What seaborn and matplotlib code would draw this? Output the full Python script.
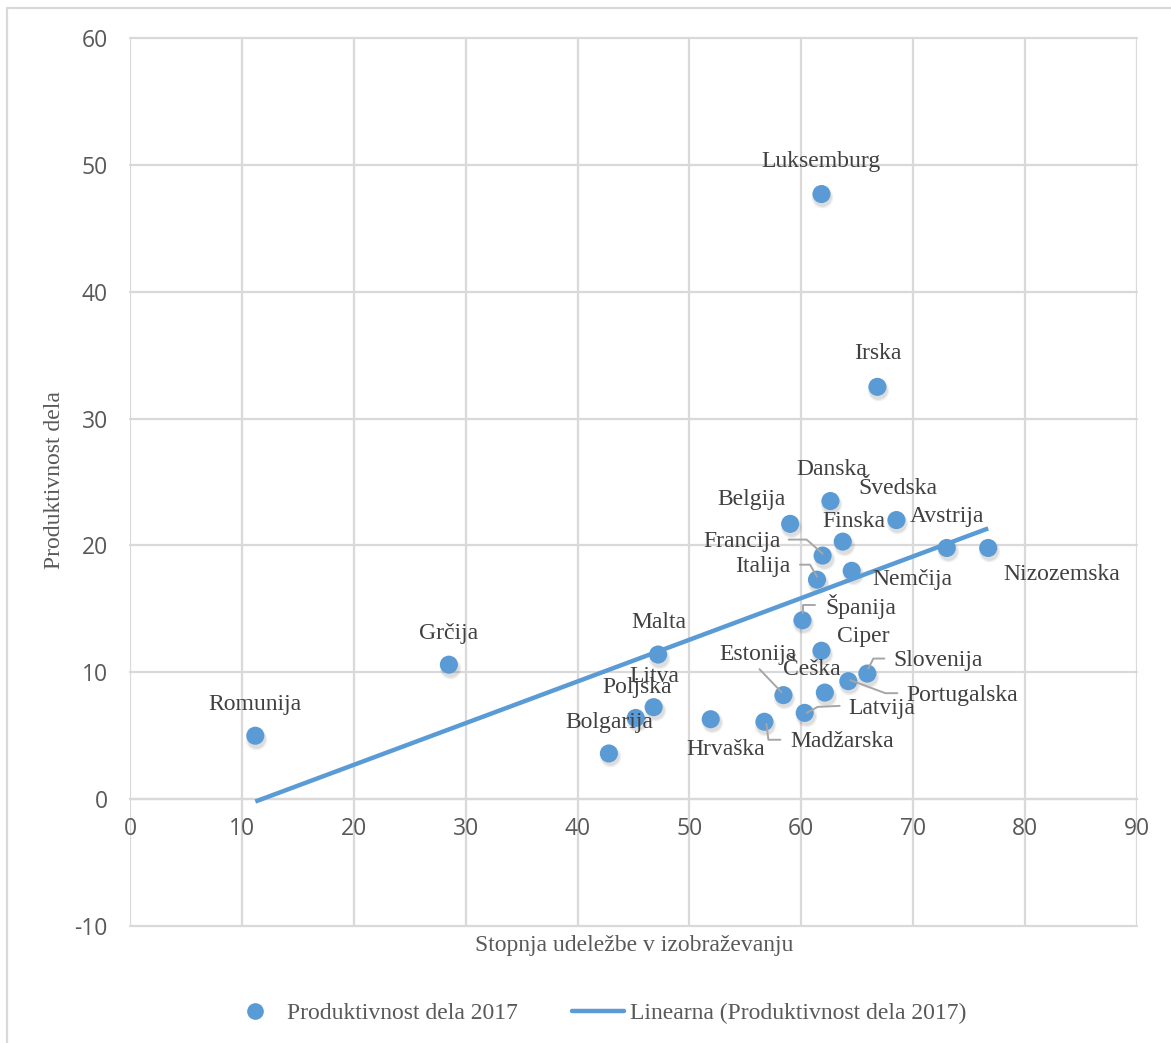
import numpy as np
import pandas as pd
import matplotlib
matplotlib.use("Agg")
import matplotlib.pyplot as plt
from matplotlib.lines import Line2D
from matplotlib.transforms import ScaledTranslation, IdentityTransform
import seaborn as sns

# Participation in education (%) and labour productivity, EU member states 2017
countries = ["Luksemburg", "Irska", "Danska", "Belgija", "Švedska", "Finska",
             "Francija", "Avstrija", "Nizozemska", "Nemčija", "Italija", "Španija",
             "Ciper", "Slovenija", "Portugalska", "Češka", "Estonija", "Latvija",
             "Madžarska", "Hrvaška", "Malta", "Litva", "Poljska", "Bolgarija",
             "Grčija", "Romunija"]
udelezba = [61.8, 66.8, 62.6, 59.0, 68.5, 63.7,
            61.9, 73.0, 76.7, 64.5, 61.4, 60.1,
            61.8, 65.9, 64.2, 62.1, 58.4, 60.3,
            56.7, 51.9, 47.2, 46.8, 45.2, 42.8,
            28.5, 11.2]
produktivnost = [47.7, 32.5, 23.5, 21.7, 22.0, 20.3,
                 19.2, 19.8, 19.8, 18.0, 17.3, 14.1,
                 11.7, 9.9, 9.3, 8.4, 8.2, 6.8,
                 6.1, 6.3, 11.4, 7.25, 6.4, 3.6,
                 10.6, 5.0]
x_ticks = [0, 10, 20, 30, 40, 50, 60, 70, 80, 90]
y_ticks = [-10, 0, 10, 20, 30, 40, 50, 60]

df = pd.DataFrame({"drzava": countries, "udelezba": udelezba,
                   "produktivnost": produktivnost})

# label placement: offset of the label centre from its point, in pixels (up = +)
label_offset = {
    "Luksemburg": (0, 33), "Irska": (0, 33), "Danska": (1, 32),
    "Belgija": (-39, 24), "Švedska": (1, 32), "Finska": (11, 20),
    "Avstrija": (0, 31), "Nizozemska": (74, -27), "Nemčija": (61, -9),
    "Francija": (-81, 14), "Italija": (-54, 13), "Španija": (58, 14),
    "Ciper": (42, 14), "Slovenija": (71, 13), "Portugalska": (114, -14),
    "Češka": (-13, 23), "Estonija": (-25, 41), "Latvija": (77, 4),
    "Madžarska": (78, -20), "Hrvaška": (15, -30), "Malta": (1, 32),
    "Litva": (1, 31), "Poljska": (1, 30), "Bolgarija": (0, 31),
    "Grčija": (0, 31), "Romunija": (0, 31),
}
# leader lines for moved labels (pixel offsets from the point)
leaders = {
    "Francija": [(-34, 16), (-16, 16), (0, 2)],
    "Italija": [(-17, 15), (-7, 15), (0, 3)],
    "Španija": [(13, 15), (1, 15), (1, 7)],
    "Slovenija": [(17, 15), (6, 15), (1, 5)],
    "Portugalska": [(2, 1), (37, -12), (49, -12)],
    "Estonija": [(-24, 26), (-2, 3)],
    "Latvija": [(2, 0), (13, 6), (35, 7)],
    "Madžarska": [(2, -2), (4, -18), (16, -18)],
}

BLUE = "#5B9BD5"
GRID = "#D9D9D9"
LABEL = "#404040"
AXTXT = "#595959"
SERIF = ["Liberation Serif", "DejaVu Serif"]
SANS = ["Open Sans", "DejaVu Sans"]

sns.set_style("white")
plt.rcParams["font.family"] = SERIF
plt.rcParams["axes.unicode_minus"] = False

W, H = 1171, 1043
fig = plt.figure(figsize=(W / 100, H / 100), dpi=100)
ax = fig.add_axes([130 / W, 1 - 926 / H, (1137 - 130) / W, (926 - 38) / H])

ax.set_xlim(0, 90)
ax.set_ylim(-10, 60)
ax.set_xticks(x_ticks)
ax.set_yticks(y_ticks)
ax.grid(True, color=GRID, linewidth=1.6)
ax.set_axisbelow(True)
for ln in ax.get_xgridlines() + ax.get_ygridlines():
    ln.set_clip_on(False)

for side in ["top", "right", "left"]:
    ax.spines[side].set_visible(False)
ax.spines["bottom"].set_position(("data", 0))
ax.spines["bottom"].set_color(GRID)
ax.spines["bottom"].set_linewidth(1.6)
ax.tick_params(axis="both", length=0, labelcolor=AXTXT, labelsize=16.5)
ax.tick_params(axis="x", pad=13)
ax.tick_params(axis="y", pad=16)
for t in ax.get_xticklabels() + ax.get_yticklabels():
    t.set_fontfamily(SANS)

# soft drop shadow under the markers
shadow = ax.transData + ScaledTranslation(1 / 100, -3 / 100, fig.dpi_scale_trans)
ax.scatter(df["udelezba"], df["produktivnost"], s=240, color="#000000",
           alpha=0.06, linewidths=0, transform=shadow, zorder=2)
ax.scatter(df["udelezba"], df["produktivnost"], s=180, color="#000000",
           alpha=0.08, linewidths=0, transform=shadow, zorder=2)

sns.scatterplot(data=df, x="udelezba", y="produktivnost", ax=ax, s=170,
                color=BLUE, edgecolor="none", linewidth=0, zorder=3)
sns.regplot(data=df, x="udelezba", y="produktivnost", ax=ax, scatter=False,
            ci=None, truncate=True, color=BLUE,
            line_kws=dict(linewidth=3.2, solid_capstyle="butt", zorder=4))

ax.set_xlabel("Stopnja udeležbe v izobraževanju", fontsize=17, color=AXTXT,
              va="center")
ax.set_ylabel("Produktivnost dela", fontsize=17, color=AXTXT, va="center")
ax.xaxis.set_label_coords((634 - 130) / 1007, -(945 - 926) / 888)
ax.yaxis.set_label_coords((55 - 130) / 1007, (926 - 480) / 888)

for name, xv, yv in zip(df["drzava"], df["udelezba"], df["produktivnost"]):
    dx, dy = label_offset[name]
    ax.annotate(name, (xv, yv), xytext=(dx, dy), textcoords="offset pixels",
                ha="center", va="center", fontsize=17, color=LABEL, zorder=5)

fig.canvas.draw()
for name, pts in leaders.items():
    i = countries.index(name)
    px, py = ax.transData.transform((udelezba[i], produktivnost[i]))
    xs = [px + p[0] for p in pts]
    ys = [py + p[1] for p in pts]
    fig.add_artist(Line2D(xs, ys, color="#A6A6A6", linewidth=1.4,
                          transform=IdentityTransform(), zorder=5))

handles = [
    Line2D([], [], marker="o", linestyle="none", markersize=12,
           markerfacecolor=BLUE, markeredgecolor="none",
           label="Produktivnost dela 2017"),
    Line2D([], [], color=BLUE, linewidth=3.2,
           label="Linearna (Produktivnost dela 2017)"),
]
leg = fig.legend(handles=handles, loc="center", ncol=2,
                 bbox_to_anchor=(598 / W, 1 - 1013 / H), frameon=False,
                 fontsize=17, handlelength=2.2, handletextpad=0.25,
                 columnspacing=2.3, labelcolor=AXTXT)

# chart area border (top and left edges fall inside the image)
fig.add_artist(Line2D([7 / W, 1], [1 - 8 / H, 1 - 8 / H], color=GRID,
                      linewidth=1.6, transform=fig.transFigure))
fig.add_artist(Line2D([7 / W, 7 / W], [0, 1 - 8 / H], color=GRID,
                      linewidth=1.6, transform=fig.transFigure))

fig.savefig("out.png", dpi=100)
